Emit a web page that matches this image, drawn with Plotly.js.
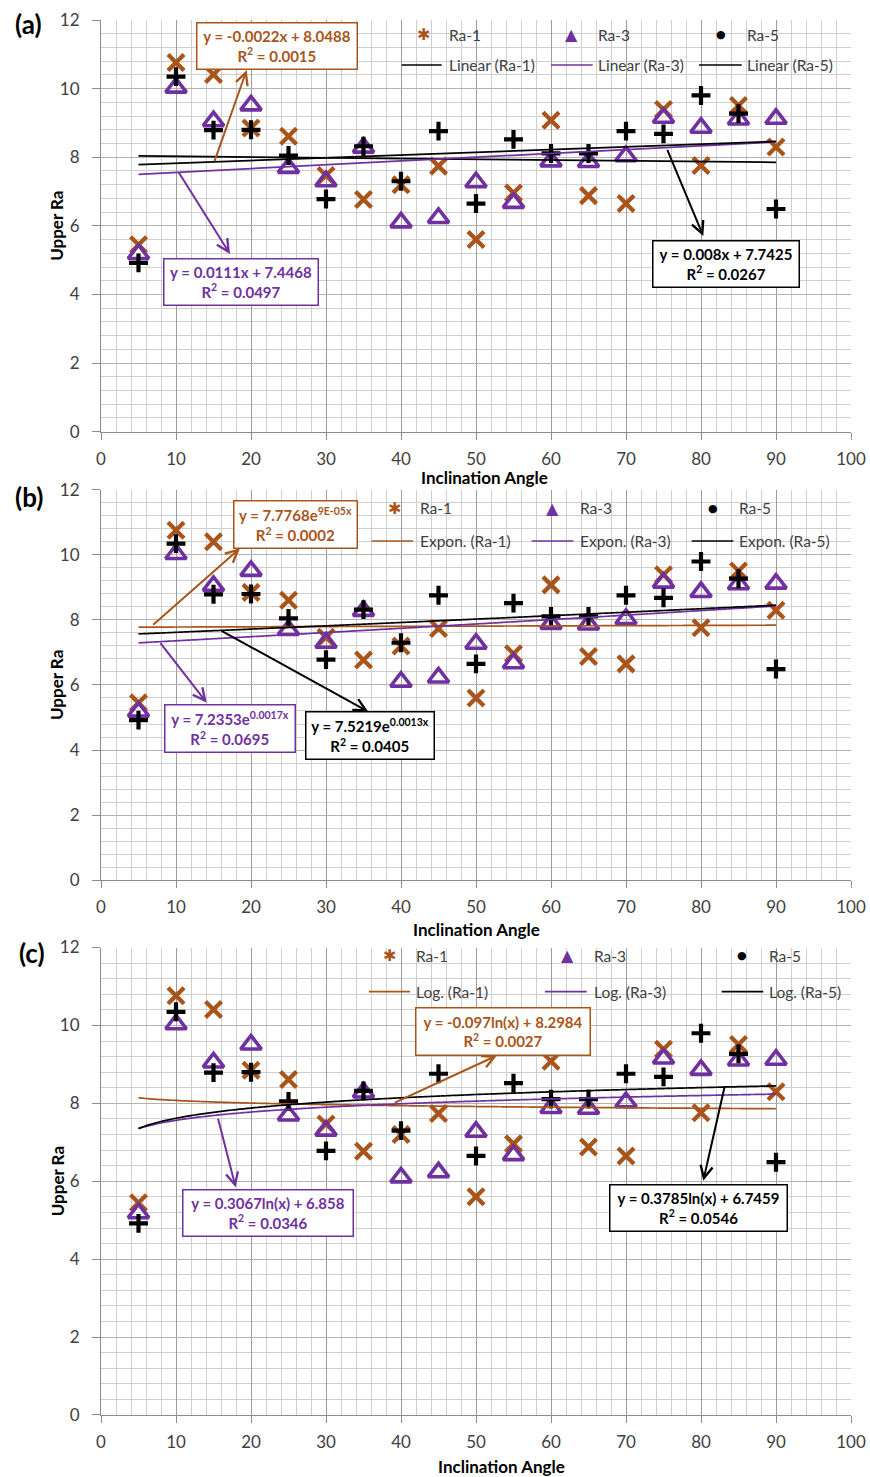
<!DOCTYPE html>
<html>
<head>
<meta charset="utf-8">
<script src="https://cdn.plot.ly/plotly-3.0.1.min.js"></script>
<style>
  html, body { margin: 0; padding: 0; background: #ffffff; }
  #chart { width: 870px; height: 1477px; }
</style>
</head>
<body>
<div id="chart"></div>
<script>
// Upper Ra measured at each inclination angle, three test series
const angle = [5, 10, 15, 20, 25, 30, 35, 40, 45, 50, 55, 60, 65, 70, 75, 80, 85, 90];
const ra1 = [5.45, 10.76, 10.41, 8.85, 8.61, 7.47, 6.77, 7.20, 7.74, 5.60, 6.96, 9.08, 6.88, 6.65, 9.39, 7.76, 9.51, 8.30];
const ra3 = [5.18, 10.03, 9.05, 9.51, 7.69, 7.30, 8.28, 6.10, 6.23, 7.27, 6.67, 7.88, 7.86, 8.03, 9.15, 8.86, 9.10, 9.12];
const ra5 = [4.92, 10.35, 8.79, 8.80, 8.05, 6.78, 8.32, 7.30, 8.76, 6.65, 8.52, 8.11, 8.11, 8.76, 8.68, 9.80, 9.27, 6.49];
const seriesNames = ['Ra-1', 'Ra-3', 'Ra-5'];

// Trendline fits (Ra-1, Ra-3, Ra-5)
const linSlope = [-0.0022, 0.0111, 0.008];
const linIntercept = [8.0488, 7.4468, 7.7425];
const linR2 = [0.0015, 0.0497, 0.0267];
const expCoef = [7.7768, 7.2353, 7.5219];
const expRate = [0.00009, 0.0017, 0.0013];
const expR2 = [0.0002, 0.0695, 0.0405];
const logCoef = [-0.097, 0.3067, 0.3785];
const logIntercept = [8.2984, 6.858, 6.7459];
const logR2 = [0.0027, 0.0346, 0.0546];

const panelLetters = ['(a)', '(b)', '(c)'];
const trendKinds = ['Linear', 'Expon.', 'Log.'];
const xTicks = [0, 10, 20, 30, 40, 50, 60, 70, 80, 90, 100];
const yTicks = [0, 2, 4, 6, 8, 10, 12];

const BROWN = '#a9551a';
const PURPLE = '#7030a0';
const BLACK = '#000000';
const FONT = 'Lato, "Open Sans", sans-serif';

// page geometry of the plotting area (shared x, stacked panels)
const L = 101, W = 750, B = 1415, H = 1395;
const px2x = px => (px - L) / W;
const py2y = py => (B - py) / H;

const domains = [[0.7049, 1], [0.3835, 0.6631], [0, 0.3351]];

function fmt(v) {
  if (v !== 0 && Math.abs(v) < 0.001) {
    return v.toExponential(0).replace('e', 'E').replace(/E([+-])(\d)$/, 'E$10$2');
  }
  return String(v);
}

const fitX = [];
for (let x = angle[0]; x <= angle[angle.length - 1] + 1e-9; x += 0.5) fitX.push(x);

const trendFns = [
  i => ({ x: [angle[0], angle[angle.length - 1]],
          y: [angle[0], angle[angle.length - 1]].map(x => linSlope[i] * x + linIntercept[i]),
          label: 'y = ' + fmt(linSlope[i]) + 'x + ' + fmt(linIntercept[i]),
          r2: linR2[i] }),
  i => ({ x: fitX, y: fitX.map(x => expCoef[i] * Math.exp(expRate[i] * x)),
          label: 'y = ' + fmt(expCoef[i]) + 'e<sup>' + fmt(expRate[i]) + 'x</sup>',
          r2: expR2[i] }),
  i => ({ x: fitX, y: fitX.map(x => logCoef[i] * Math.log(x) + logIntercept[i]),
          label: 'y = ' + fmt(logCoef[i]) + 'ln(x) + ' + fmt(logIntercept[i]),
          r2: logR2[i] })
];

const trendColors = [[BLACK, PURPLE, BLACK], [BROWN, PURPLE, BLACK], [BROWN, PURPLE, BLACK]];
const seriesColors = [BROWN, PURPLE, BLACK];
const seriesValues = [ra1, ra3, ra5];

const traces = [];
const layout = {
  width: 870, height: 1477,
  margin: { l: L, r: 870 - L - W, t: B - H, b: 1477 - B },
  paper_bgcolor: '#ffffff', plot_bgcolor: '#ffffff',
  showlegend: false,
  font: { family: FONT, color: '#404040' },
  annotations: [], shapes: []
};

function axisStyle(isX) {
  return {
    range: isX ? [0, 100] : [0, 12],
    tickvals: isX ? xTicks : yTicks,
    ticks: 'outside', ticklen: isX ? 7 : 8, tickcolor: '#8c8c8c', tickwidth: 1,
    ticklabelstandoff: isX ? 5 : 9,
    tickfont: { family: FONT, size: 17, color: '#404040' },
    showgrid: true, gridcolor: isX ? '#9c9c9c' : '#b2b2b2', gridwidth: 1,
    minor: { dtick: isX ? 2 : 0.4, showgrid: true, gridcolor: '#cfcfcf', gridwidth: 1, ticks: '' },
    showline: true, linecolor: '#8c8c8c', linewidth: 1,
    zeroline: false, fixedrange: true
  };
}

const markerStyles = [
  { symbol: 'x-thin-open', size: 16, width: 4.3 },
  { symbol: 'triangle-up-open', size: 18, width: 3.6 },
  { symbol: 'cross-thin-open', size: 13.5, width: 4.2 }
];

for (let p = 0; p < 3; p++) {
  const xa = p === 0 ? 'x' : 'x' + (p + 1);
  const ya = p === 0 ? 'y' : 'y' + (p + 1);
  layout[p === 0 ? 'xaxis' : 'xaxis' + (p + 1)] = Object.assign(axisStyle(true),
    { anchor: ya, domain: [0, 1] });
  layout[p === 0 ? 'yaxis' : 'yaxis' + (p + 1)] = Object.assign(axisStyle(false),
    { anchor: xa, domain: domains[p] });

  // measured points
  for (let s = 0; s < 3; s++) {
    const m = markerStyles[s];
    traces.push({
      type: 'scatter', mode: 'markers', name: seriesNames[s],
      x: angle, y: seriesValues[s], xaxis: xa, yaxis: ya,
      marker: { symbol: m.symbol, size: m.size, color: seriesColors[s],
                line: { color: seriesColors[s], width: m.width } },
      hoverinfo: 'x+y'
    });
  }
  // fitted trendlines
  for (let s = 0; s < 3; s++) {
    const t = trendFns[p](s);
    traces.push({
      type: 'scatter', mode: 'lines', name: trendKinds[p] + ' (' + seriesNames[s] + ')',
      x: t.x, y: t.y, xaxis: xa, yaxis: ya,
      line: { color: trendColors[p][s], width: 1.7, shape: 'spline' },
      hoverinfo: 'skip'
    });
  }
}

// equation boxes and leader arrows, page pixel positions per panel and series
const boxGeom = [
  [ { cx: 277, cy: 45.5, w: 162, h: 48, tail: [214, 162.7], tip: [246.7, 70] },
    { cx: 240.7, cy: 282.2, w: 156, h: 48, tail: [177.7, 170.7], tip: [230, 254] },
    { cx: 726, cy: 263.8, w: 148, h: 48, tail: [666.7, 148.3], tip: [703.3, 236] } ],
  [ { cx: 295.2, cy: 524.5, w: 125, h: 49, tail: [151.7, 626], tip: [240, 548.3] },
    { cx: 229.8, cy: 728, w: 132, h: 49, tail: [159.3, 641.7], tip: [206.7, 702.7] },
    { cx: 370, cy: 735.3, w: 130, h: 49, tail: [220, 630], tip: [368.3, 711.7] } ],
  [ { cx: 503, cy: 1031.7, w: 176, h: 49, tail: [393.3, 1103.3], tip: [497, 1055.5] },
    { cx: 268, cy: 1213.3, w: 172, h: 48, tail: [217.7, 1117.3], tip: [235.7, 1187.3] },
    { cx: 698, cy: 1207.5, w: 179, h: 48, tail: [725, 1085], tip: [703.3, 1180.7] } ]
];
const boxColors = [[BROWN, PURPLE, BLACK], [BROWN, PURPLE, BLACK], [BROWN, PURPLE, BLACK]];

for (let p = 0; p < 3; p++) {
  for (let s = 0; s < 3; s++) {
    const g = boxGeom[p][s];
    const t = trendFns[p](s);
    const c = boxColors[p][s];
    layout.annotations.push({
      xref: 'paper', yref: 'paper', x: px2x(g.tip[0]), y: py2y(g.tip[1]),
      text: '', showarrow: true, arrowhead: 5, arrowsize: 1.2, arrowwidth: 2,
      arrowcolor: c, ax: g.tail[0] - g.tip[0], ay: g.tail[1] - g.tip[1], standoff: 0
    });
    layout.annotations.push({
      xref: 'paper', yref: 'paper', x: px2x(g.cx), y: py2y(g.cy),
      xanchor: 'center', yanchor: 'middle', showarrow: false,
      text: '<b>' + t.label + '</b><br><b>R<sup>2</sup> = ' + t.r2.toFixed(4) + '</b>',
      font: { family: FONT, size: 15, color: c },
      align: 'center', width: g.w - 3, height: g.h - 3, borderpad: 0,
      bordercolor: c, borderwidth: 1.5, bgcolor: '#ffffff'
    });
  }
}

// two-row legend inside each panel
const legendGeom = [
  { row1: 35, row2: 65, marker: [423, 571.7, 720.7], text: [447, 596, 745],
    line: [[401.7, 441.7], [551, 592.7], [699, 741.7]] },
  { row1: 508, row2: 541, marker: [394, 552.7, 712.7], text: [418, 578, 737],
    line: [[371.7, 413], [531.7, 573.3], [691.7, 733.3]] },
  { row1: 955.5, row2: 991.7, marker: [389.3, 567.7, 741.7], text: [414, 591.7, 767.3],
    line: [[369, 410], [545, 586.7], [721.7, 763.3]] }
];
const legendGlyphs = [
  { ch: '✱', size: 16 }, { ch: '▲', size: 16 }, { ch: '●', size: 11 }
];

for (let p = 0; p < 3; p++) {
  const g = legendGeom[p];
  for (let s = 0; s < 3; s++) {
    layout.annotations.push({
      xref: 'paper', yref: 'paper', x: px2x(g.marker[s]), y: py2y(g.row1),
      xanchor: 'center', yanchor: 'middle', showarrow: false,
      text: legendGlyphs[s].ch,
      font: { family: 'DejaVu Sans', size: legendGlyphs[s].size, color: seriesColors[s] }
    });
    layout.annotations.push({
      xref: 'paper', yref: 'paper', x: px2x(g.text[s]), y: py2y(g.row1),
      xanchor: 'left', yanchor: 'middle', showarrow: false,
      text: seriesNames[s], font: { family: FONT, size: 15.5, color: '#404040' }
    });
    layout.shapes.push({
      type: 'line', xref: 'paper', yref: 'paper',
      x0: px2x(g.line[s][0]), x1: px2x(g.line[s][1]), y0: py2y(g.row2), y1: py2y(g.row2),
      line: { color: trendColors[p][s], width: 1.7 }
    });
    layout.annotations.push({
      xref: 'paper', yref: 'paper', x: px2x(g.text[s]), y: py2y(g.row2),
      xanchor: 'left', yanchor: 'middle', showarrow: false,
      text: trendKinds[p] + ' (' + seriesNames[s] + ')',
      font: { family: FONT, size: 15.5, color: '#404040' }
    });
  }
}

// axis titles and panel letters
const xTitleCenters = [[484, 477.5], [476, 929], [501, 1466]];
const panelCenters = [[28.5, 24.5], [28.5, 497], [32, 953]];
for (let p = 0; p < 3; p++) {
  const top = B - domains[p][1] * H, bottom = B - domains[p][0] * H;
  layout.annotations.push({
    xref: 'paper', yref: 'paper', x: px2x(xTitleCenters[p][0]), y: py2y(xTitleCenters[p][1]),
    xanchor: 'center', yanchor: 'middle', showarrow: false,
    text: '<b>Inclination Angle</b>', font: { family: FONT, size: 17, color: '#000000' }
  });
  layout.annotations.push({
    xref: 'paper', yref: 'paper', x: px2x(57), y: py2y((top + bottom) / 2),
    xanchor: 'center', yanchor: 'middle', showarrow: false, textangle: -90,
    text: '<b>Upper Ra</b>', font: { family: FONT, size: 17, color: '#000000' }
  });
  layout.annotations.push({
    xref: 'paper', yref: 'paper', x: px2x(panelCenters[p][0]), y: py2y(panelCenters[p][1]),
    xanchor: 'center', yanchor: 'middle', showarrow: false,
    text: '<b>' + panelLetters[p] + '</b>', font: { family: FONT, size: 26, color: '#000000' }
  });
}

Plotly.newPlot('chart', traces, layout, { staticPlot: true, displayModeBar: false });
</script>
</body>
</html>
